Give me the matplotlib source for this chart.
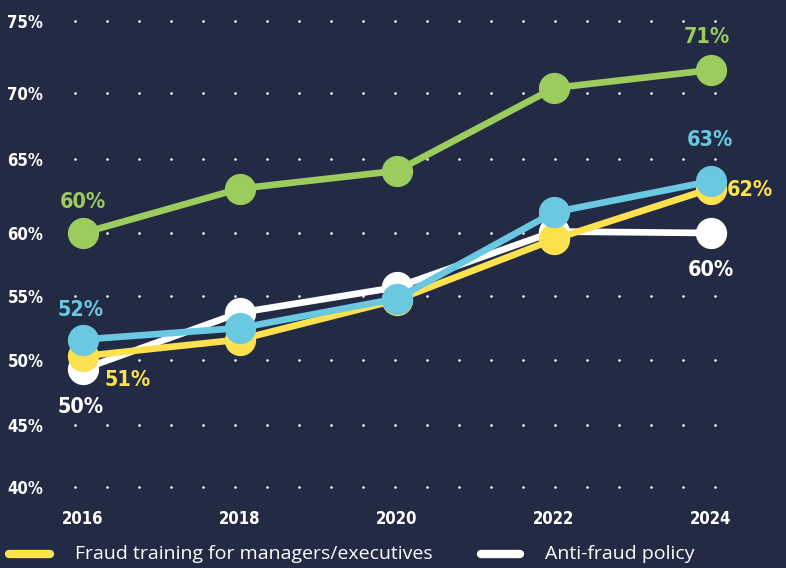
import numpy as np
import matplotlib
matplotlib.use("Agg")
import matplotlib.pyplot as plt
from matplotlib.lines import Line2D

years = [2016, 2018, 2020, 2022, 2024]
training = [50.3, 51.6, 54.7, 59.5, 63.0]
policy = [49.3, 53.7, 55.7, 60.1, 60.0]
hotline = [51.6, 52.5, 54.8, 61.4, 63.5]
review = [60.0, 63.0, 64.2, 70.35, 71.6]

y_ticks = [40, 45, 50, 55, 60, 65, 70, 75]
y_labels = ["40%", "45%", "50%", "55%", "60%", "65%", "70%", "75%"]

bg = "#222a44"
c_yellow = "#fde14f"
c_white = "#ffffff"
c_blue = "#6ac8e1"
c_green = "#9ccb5e"

num_font = "DejaVu Sans"
leg_font = ["Open Sans", "DejaVu Sans"]

W, H = 786, 568
fig = plt.figure(figsize=(W / 100, H / 100), dpi=100, facecolor=bg)
# axes box in pixels: x 60..740, y 10..495
ax = fig.add_axes([60 / W, 1 - 495 / H, 680 / W, 485 / H], facecolor=bg)

# the gridlines in the source are not evenly spaced, follow them
grid_v = [0, 40, 45, 50, 55, 60, 65, 70, 75, 100]
grid_p = [-496, 0, 62, 127, 191, 254, 328, 394, 466, 826]
fwd = lambda v: np.interp(v, grid_v, grid_p)
inv = lambda p: np.interp(p, grid_p, grid_v)
ax.set_yscale("function", functions=(fwd, inv))

px_per_year = (711 - 83) / 8
ax.set_xlim(2016 - (83 - 60) / px_per_year, 2024 + (740 - 711) / px_per_year)
ax.set_ylim(40 - 8 / 12.4, 75 + 11 / 14.4)

# dotted grid
dot_x = 2016 + (np.arange(75, 716, 32) - 83) / px_per_year
for yv in y_ticks:
    ax.scatter(dot_x, [yv] * len(dot_x), s=3.5, color="white", zorder=1, linewidths=0)

series = [
    (policy, c_white, 2),
    (training, c_yellow, 3),
    (hotline, c_blue, 4),
    (review, c_green, 5),
]
for vals, col, z in series:
    ax.plot(years, vals, color=col, lw=4.8, marker="o", ms=21.5, zorder=z,
            solid_capstyle="round")

def lab(x, y, txt, col, dx, dy):
    ax.annotate(txt, (x, y), xytext=(dx, dy), textcoords="offset points",
                ha="center", va="center", color=col, fontsize=15.5,
                fontweight="bold", family=num_font, fontstretch="condensed",
                zorder=10)

lab(years[0], review[0], "60%", c_green, 0, 22)
lab(years[-1], review[-1], "71%", c_green, -3, 24)
lab(years[0], hotline[0], "52%", c_blue, -2, 21)
lab(years[-1], hotline[-1], "63%", c_blue, -1, 30)
lab(years[0], training[0], "51%", c_yellow, 32, -17)
lab(years[-1], training[-1], "62%", c_yellow, 28, -1)
lab(years[0], policy[0], "50%", c_white, -2, -27)
lab(years[-1], policy[-1], "60%", c_white, 0, -27)

ax.set_yticks(y_ticks)
ax.set_yticklabels(y_labels)
ax.set_xticks(years)
ax.set_xticklabels([str(y) for y in years])
ax.minorticks_off()
ax.tick_params(axis="y", which="both", length=0, pad=12, colors="white", labelsize=12)
ax.tick_params(axis="x", length=0, pad=11, colors="white", labelsize=12)
for t in ax.get_xticklabels() + ax.get_yticklabels():
    t.set_fontfamily(num_font)
    t.set_fontweight("bold")
    t.set_fontstretch("condensed")
for s in ax.spines.values():
    s.set_visible(False)

# legend along bottom edge
ly = 1 - 554 / H
fig.add_artist(Line2D([9 / W, 50 / W], [ly, ly], color=c_yellow, lw=6,
                      solid_capstyle="round", transform=fig.transFigure))
fig.text(75 / W, ly, "Fraud training for managers/executives", color="white",
         fontsize=14, family=leg_font, va="center", ha="left")
fig.add_artist(Line2D([481 / W, 520 / W], [ly, ly], color=c_white, lw=6,
                      solid_capstyle="round", transform=fig.transFigure))
fig.text(545 / W, ly, "Anti-fraud policy", color="white",
         fontsize=14, family=leg_font, va="center", ha="left")

fig.savefig("out.png", dpi=100, facecolor=bg)
